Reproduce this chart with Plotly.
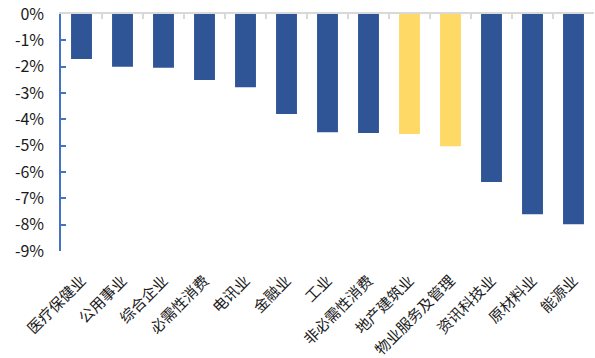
import plotly.graph_objects as go

categories = ["医疗保健业", "公用事业", "综合企业", "必需性消费", "电讯业", "金融业", "工业",
              "非必需性消费", "地产建筑业", "物业服务及管理", "资讯科技业", "原材料业", "能源业"]
values = [-1.71, -2.00, -2.04, -2.51, -2.78, -3.80, -4.49, -4.52, -4.56, -5.02, -6.38, -7.60, -7.98]
highlight = ["地产建筑业", "物业服务及管理"]
y_tickvals = [0, -1, -2, -3, -4, -5, -6, -7, -8, -9]
y_ticktext = ["0%", "-1%", "-2%", "-3%", "-4%", "-5%", "-6%", "-7%", "-8%", "-9%"]

BLUE = "#2F5597"
YELLOW = "#FFD966"
colors = [YELLOW if c in highlight else BLUE for c in categories]

FONT = "Noto Sans CJK SC, Noto Sans, sans-serif"
xrange = [-0.5, len(categories) - 0.5]

fig = go.Figure()
fig.add_trace(go.Bar(x=categories, y=values, marker=dict(color=colors, line=dict(width=0)),
                     hoverinfo="x+y"))
# invisible trace to drive the top (zero) category line with boundary ticks
fig.add_trace(go.Scatter(x=categories, y=values, xaxis="x2", mode="markers",
                         marker=dict(opacity=0), hoverinfo="skip", showlegend=False))

fig.update_layout(
    width=595, height=358,
    margin=dict(l=61, r=1, t=14, b=107),
    paper_bgcolor="white", plot_bgcolor="white",
    showlegend=False,
    bargap=0.49,
    font=dict(family=FONT, color="#1a1a1a"),
    xaxis=dict(type="category", range=xrange, tickangle=-45, showline=False, showgrid=False,
               ticks="", tickfont=dict(size=15, family=FONT, color="#1a1a1a"),
               ticklabelstandoff=17, zeroline=False, automargin=False),
    xaxis2=dict(type="category", overlaying="x", side="top", anchor="y", range=xrange,
                showline=True, linecolor="#D9D9D9", linewidth=2,
                ticks="inside", tickson="boundaries", ticklen=5, tickwidth=1.5,
                tickcolor="#D9D9D9", showticklabels=False, showgrid=False, zeroline=False,
                automargin=False),
    yaxis=dict(range=[-9, 0], tickvals=y_tickvals, ticktext=y_ticktext,
               showline=True, linecolor="#4472C4", linewidth=1.5,
               ticks="inside", ticklen=5, tickwidth=1.5, tickcolor="#4472C4",
               showgrid=False, zeroline=False, automargin=False,
               tickfont=dict(size=16, family=FONT, color="#1a1a1a"),
               ticklabelstandoff=12),
)

fig.write_html("out.html")
